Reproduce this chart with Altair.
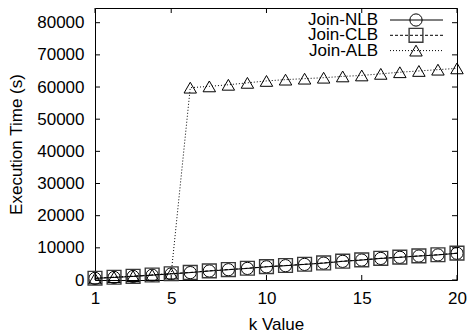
import altair as alt
import pandas as pd

k_values = list(range(1, 21))
nlb = [500, 800, 1100, 1500, 1900, 2300, 2800, 3200, 3600, 4100,
       4450, 4850, 5250, 5800, 6200, 6700, 7050, 7450, 7800, 8300]
clb = [550, 850, 1150, 1550, 1950, 2350, 2850, 3250, 3650, 4150,
       4500, 4900, 5300, 5850, 6250, 6750, 7100, 7500, 7850, 8350]
alb = [500, 900, 1200, 1600, 2000, 59800, 60200, 60700, 61300, 61900,
       62300, 62600, 62900, 63300, 63600, 64100, 64600, 65000, 65400, 65800]
series_names = ["Join-NLB", "Join-CLB", "Join-ALB"]
series_values = [nlb, clb, alb]
x_ticks = [1, 5, 10, 15, 20]
y_ticks = [0, 10000, 20000, 30000, 40000, 50000, 60000, 70000, 80000]

W, H = 362, 272
PAD_L = 87
FONT = "Liberation Sans"
FS = 17

shapes = ["circle", "square", "triangle-up"]
sizes = [150, 190, 155]
dashes = [None, [3, 2], [1, 2]]
pt_strokes = ["black", "#3a3a3a", "black"]
pt_widths = [1, 1.4, 1]

rows = []
for name, vals in zip(series_names, series_values):
    for k, v in zip(k_values, vals):
        rows.append({"k": k, "time": v, "series": name})
df = pd.DataFrame(rows)

xscale = alt.Scale(domain=[1, 20], nice=False, zero=False)
yscale = alt.Scale(domain=[0, 84570], nice=False)
xaxis = alt.Axis(values=x_ticks, title="k Value", labelFlush=False, labelOverlap=False,
                 labelPadding=10, titleY=49, titleBaseline="alphabetic")
yaxis = alt.Axis(values=y_ticks, title="Execution Time (s)", format="d", labelFlush=False,
                 labelOverlap=False, labelPadding=11, titleX=-74, titleBaseline="alphabetic")
X = alt.X("k:Q", scale=xscale, axis=xaxis)
Y = alt.Y("time:Q", scale=yscale, axis=yaxis)

layers = []

# inward ticks (gnuplot style) on all four sides
ydf = pd.DataFrame({"time": y_ticks})
xdf = pd.DataFrame({"k": x_ticks})
layers.append(alt.Chart(ydf).mark_rule(color="black", strokeWidth=1).encode(
    y=Y, x=alt.value(0), x2=alt.value(5)))
layers.append(alt.Chart(ydf).mark_rule(color="black", strokeWidth=1).encode(
    y=Y, x=alt.value(W - 5), x2=alt.value(W)))
layers.append(alt.Chart(xdf).mark_rule(color="black", strokeWidth=1).encode(
    x=X, y=alt.value(H), y2=alt.value(H - 5)))
layers.append(alt.Chart(xdf).mark_rule(color="black", strokeWidth=1).encode(
    x=X, y=alt.value(0), y2=alt.value(5)))

# legend geometry expressed in page pixels, converted to plot coordinates
LEG_TEXT_R = 378 - 8 - PAD_L
LEG_LINE_L = 390 - 8 - PAD_L
LEG_LINE_R = 443 - 8 - PAD_L
LEG_MARK = 416 - 8 - PAD_L

for i, name in enumerate(series_names):
    line_kw = dict(color="black", strokeWidth=1)
    if dashes[i] is not None:
        line_kw["strokeDash"] = dashes[i]
    base = alt.Chart(df).transform_filter(alt.datum.series == name)
    layers.append(base.mark_line(**line_kw).encode(x=X, y=Y))
    layers.append(base.mark_point(shape=shapes[i], size=sizes[i], filled=False,
                                  color=pt_strokes[i], strokeWidth=pt_widths[i],
                                  opacity=1).encode(x=X, y=Y))

    # legend entry
    ly = 12 + 15.3 * i
    ldf = pd.DataFrame({"series": [name]})
    layers.append(alt.Chart(ldf).mark_text(align="right", baseline="middle", font=FONT,
                                           fontSize=FS, color="black").encode(
        x=alt.value(LEG_TEXT_R), y=alt.value(ly), text=alt.Text("series:N")))
    layers.append(alt.Chart(ldf).mark_rule(**line_kw).encode(
        x=alt.value(LEG_LINE_L), x2=alt.value(LEG_LINE_R), y=alt.value(ly)))
    layers.append(alt.Chart(ldf).mark_point(shape=shapes[i], size=sizes[i], filled=False,
                                            color=pt_strokes[i], strokeWidth=pt_widths[i],
                                            opacity=1).encode(
        x=alt.value(LEG_MARK), y=alt.value(ly)))

chart = alt.layer(*layers).properties(
    width=W, height=H,
    autosize="none",
    padding={"left": PAD_L, "top": 0, "right": 459 - PAD_L - W, "bottom": 55},
).configure_view(
    stroke="black", strokeWidth=1
).configure_axis(
    grid=False, domain=False, ticks=False, tickSize=0,
    labelFont=FONT, labelFontSize=FS, labelColor="black",
    titleFont=FONT, titleFontSize=FS, titleColor="black", titleFontWeight="normal",
)

chart.save("out.html", embed_options={"renderer": "svg", "actions": False})
